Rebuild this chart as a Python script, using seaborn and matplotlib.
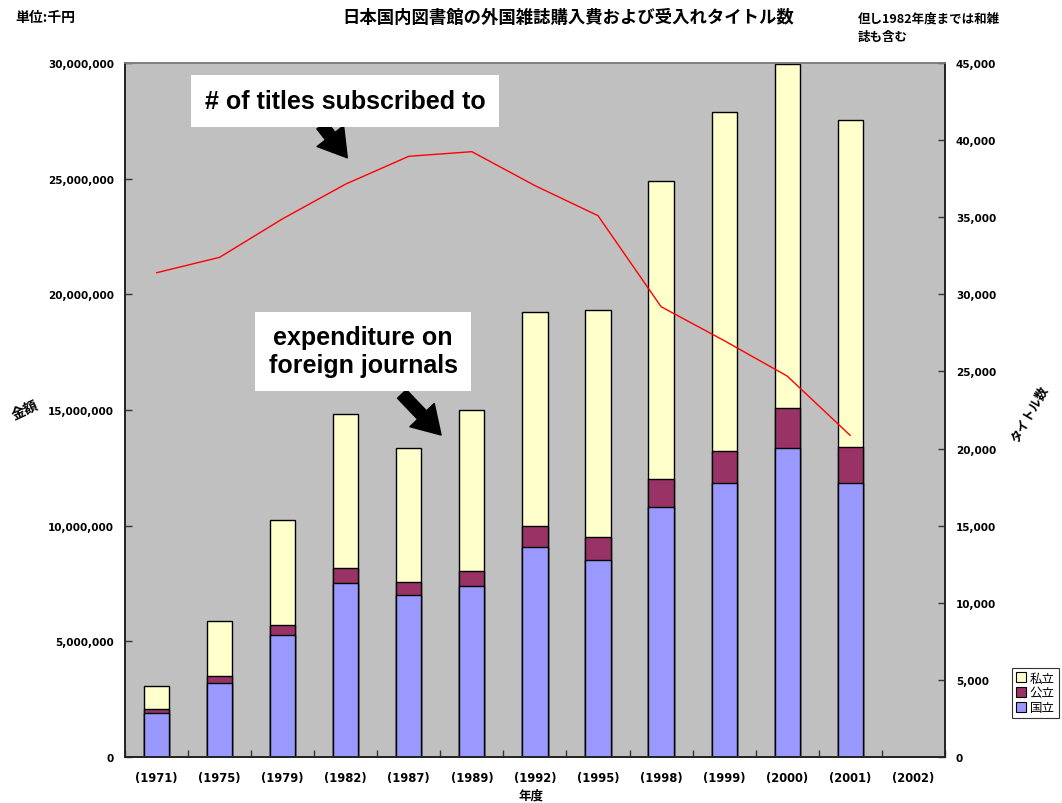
import matplotlib
matplotlib.use("Agg")
import matplotlib.pyplot as plt
from matplotlib.patches import Patch, FancyArrowPatch
from matplotlib.ticker import FuncFormatter, MultipleLocator
import numpy as np
import pandas as pd
import seaborn as sns

# 年度ごとの購入費（千円）と受入れタイトル数
years = ["(1971)", "(1975)", "(1979)", "(1982)", "(1987)", "(1989)", "(1992)",
         "(1995)", "(1998)", "(1999)", "(2000)", "(2001)", "(2002)"]
national = [1900000, 3200000, 5260000, 7510000, 6990000, 7410000, 9090000,
            8530000, 10790000, 11830000, 13360000, 11830000]
public = [180000, 320000, 460000, 670000, 590000, 620000, 900000,
          990000, 1240000, 1380000, 1740000, 1590000]
private = [990000, 2360000, 4510000, 6650000, 5780000, 6970000, 9250000,
           9810000, 12870000, 14680000, 14870000, 14110000]
titles = [31400, 32400, 34900, 37150, 38950, 39250, 37050, 35100,
          29200, 27000, 24700, 20850]

sector_labels = ["私立", "公立", "国立"]
c_private, c_public, c_national = "#FFFFCC", "#993366", "#9999FF"

sns.set_theme(style="white")
plt.rcParams["font.family"] = ["Noto Sans CJK JP", "DejaVu Sans"]
plt.rcParams.update({"text.color": "black", "axes.labelcolor": "black",
                     "xtick.color": "black", "ytick.color": "black"})

n = len(national)
df = pd.DataFrame({
    "year": years[:n],
    "national": national,
    "public": public,
    "private": private,
    "titles": titles,
})
df["lvl_public"] = df["national"] + df["public"]
df["lvl_total"] = df["lvl_public"] + df["private"]
df["pos"] = np.arange(n)

fig = plt.figure(figsize=(10.62, 8.04), dpi=100)
ax = fig.add_axes([0.1177, 0.0572, 0.772, 0.8632])
ax.set_facecolor("#C0C0C0")

bar_kw = dict(order=years, width=0.4, saturation=1, edgecolor="black",
              linewidth=1.0, ax=ax)
sns.barplot(data=df, x="year", y="lvl_total", color=c_private, **bar_kw)
sns.barplot(data=df, x="year", y="lvl_public", color=c_public, **bar_kw)
sns.barplot(data=df, x="year", y="national", color=c_national, **bar_kw)

ax.set_xlim(-0.5, len(years) - 0.5)
ax.set_ylim(0, 30000000)
ax.yaxis.set_major_locator(MultipleLocator(5000000))
ax.yaxis.set_major_formatter(FuncFormatter(lambda v, p: f"{int(v):,}"))
ax.set_xlabel("")
ax.set_ylabel("")
ax.set_xticks(np.arange(len(years)))
ax.set_xticklabels(years)
ax.set_xticks(np.arange(len(years) + 1) - 0.5, minor=True)
ax.tick_params(axis="x", which="major", length=0, pad=10)
ax.tick_params(axis="x", which="minor", direction="in", length=5, width=1,
               color="#333333", bottom=True)
ax.tick_params(axis="y", direction="in", length=5, width=1, color="#333333",
               left=True, pad=8)
for lab in ax.get_xticklabels():
    lab.set_fontfamily("DejaVu Sans")
    lab.set_fontweight("bold")
    lab.set_fontsize(8.3)
for lab in ax.get_yticklabels():
    lab.set_fontfamily("DejaVu Sans")
    lab.set_fontweight("bold")
    lab.set_fontsize(7.5)

ax2 = ax.twinx()
sns.lineplot(data=df, x="pos", y="titles", color="#FF0000", linewidth=1.0,
             ax=ax2, legend=False)
ax2.set_ylim(0, 45000)
ax2.yaxis.set_major_locator(MultipleLocator(5000))
ax2.yaxis.set_major_formatter(FuncFormatter(lambda v, p: f"{int(v):,}"))
ax2.set_ylabel("")
ax2.tick_params(axis="y", direction="in", length=5, width=1, color="#333333",
                right=True, pad=8)
for lab in ax2.get_yticklabels():
    lab.set_fontfamily("DejaVu Sans")
    lab.set_fontweight("bold")
    lab.set_fontsize(7.5)

for a in (ax, ax2):
    for side in ("left", "bottom", "right"):
        a.spines[side].set_color("#222222")
        a.spines[side].set_linewidth(1.2)
    a.spines["top"].set_color("#808080")
    a.spines["top"].set_linewidth(1.2)

# 見出し・単位・注記
fig.text(0.535, 0.978, "日本国内図書館の外国雑誌購入費および受入れタイトル数",
         ha="center", va="center", fontsize=12.5, fontweight="bold")
fig.text(0.014, 0.978, "単位:千円", ha="left", va="center", fontsize=10,
         fontweight="bold")
fig.text(0.808, 0.965, "但し1982年度までは和雑\n誌も含む", ha="left",
         va="center", fontsize=9, fontweight="bold", linespacing=1.5)
fig.text(0.5, 0.01, "年度", ha="center", va="center", fontsize=9,
         fontweight="bold")
fig.text(0.024, 0.49, "金額", ha="center", va="center", fontsize=10,
         fontweight="bold", rotation=25)
fig.text(0.970, 0.484, "タイトル数", ha="center", va="center", fontsize=9,
         fontweight="bold", rotation=60)

# 凡例
handles = [Patch(facecolor=c, edgecolor="black", linewidth=0.8)
           for c in (c_private, c_public, c_national)]
leg = fig.legend(handles, sector_labels, loc="center", ncol=1,
                 bbox_to_anchor=(0.975, 0.137), frameon=True, fancybox=False,
                 fontsize=9, handlelength=0.8, handleheight=0.8,
                 handletextpad=0.3, borderpad=0.3, labelspacing=0.15,
                 borderaxespad=0)
leg.get_frame().set_edgecolor("black")
leg.get_frame().set_linewidth(0.8)

# 説明ラベルと矢印
fig.text(0.325, 0.873, "# of titles subscribed to", ha="center", va="center",
         fontsize=18, fontweight="bold", family="Liberation Sans",
         bbox=dict(boxstyle="square,pad=0.55", facecolor="white",
                   edgecolor="none"))
fig.text(0.342, 0.562, "expenditure on\nforeign journals", ha="center",
         va="center", fontsize=18, fontweight="bold", family="Liberation Sans",
         linespacing=1.2,
         bbox=dict(boxstyle="square,pad=0.55", facecolor="white",
                   edgecolor="none"))
arrow_style = "simple,head_length=0.9,head_width=1.1,tail_width=0.4"
for (x0, y0), (x1, y1) in (((320, 124), (349, 161)), ((400, 393), (443, 438))):
    fig.add_artist(FancyArrowPatch(
        (x0 / 1062, 1 - y0 / 804), (x1 / 1062, 1 - y1 / 804),
        transform=fig.transFigure, arrowstyle=arrow_style,
        facecolor="black", edgecolor="black", mutation_scale=22))

fig.savefig("out.png", dpi=100, facecolor="white")
